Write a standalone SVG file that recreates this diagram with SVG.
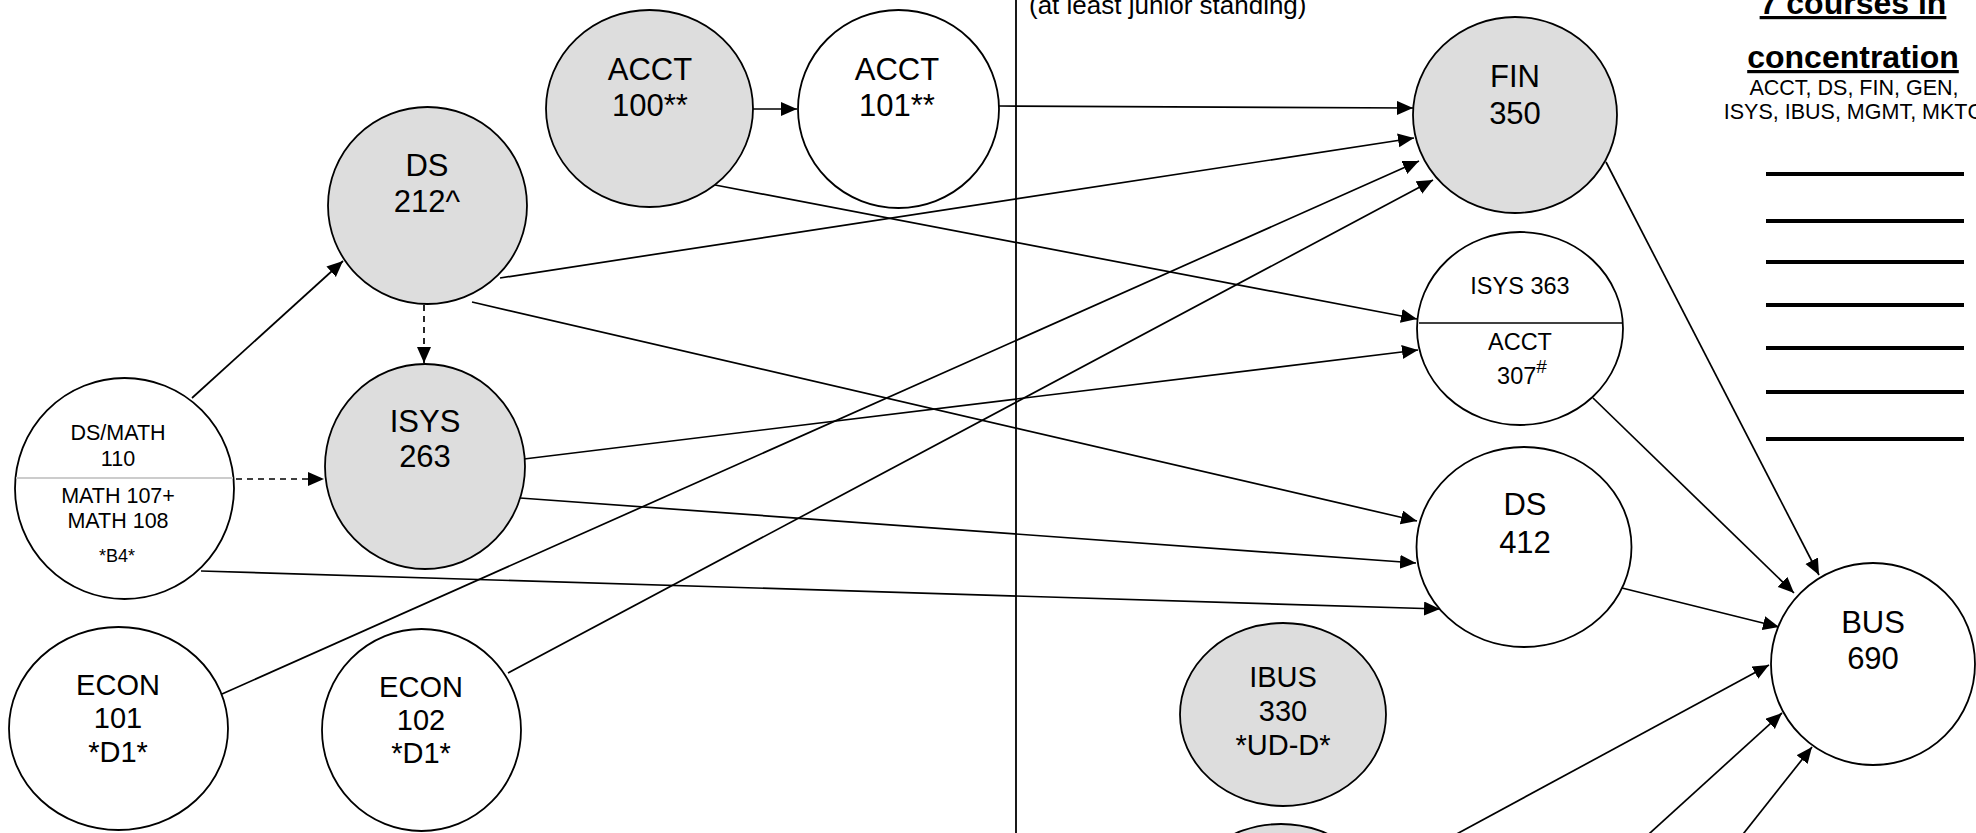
<svg xmlns="http://www.w3.org/2000/svg" width="1976" height="833" viewBox="0 0 1976 833">
<style>
text{font-family:"Liberation Sans",Arial,sans-serif;fill:#000;text-anchor:middle}
.nd{stroke:#000;stroke-width:1.8}
.g{fill:#dddddd}
.w{fill:#fff}
.t31{font-size:31px}
.t29{font-size:29px}
.t23{font-size:23.5px}
.t22{font-size:21.5px}
.t18{font-size:18px}
.c{fill:none;stroke:#000;stroke-width:1.7;marker-end:url(#ah)}
.d{stroke-dasharray:6 5}
.blank{stroke:#000;stroke-width:4}
</style>
<defs>
<marker id="ah" markerUnits="userSpaceOnUse" markerWidth="18" markerHeight="15" refX="16" refY="7" orient="auto">
<path d="M0,0 L16,7 L0,14 z" fill="#000"/>
</marker>
</defs>
<rect width="1976" height="833" fill="#fff"/>
<line x1="1016" y1="0" x2="1016" y2="833" stroke="#000" stroke-width="1.8"/>
<text x="1029" y="14" style="font-size:26px;text-anchor:start">(at least junior standing)</text>
<g id="concentration">
<text x="1853" y="14" style="font-size:32px;font-weight:bold;text-decoration:underline">7 courses in</text>
<text x="1853" y="68" style="font-size:32px;font-weight:bold;text-decoration:underline">concentration</text>
<text x="1854" y="95" style="font-size:21.5px">ACCT, DS, FIN, GEN,</text>
<text x="1854" y="119" style="font-size:21.5px">ISYS, IBUS, MGMT, MKTG</text>
<line class="blank" x1="1766" y1="174" x2="1964" y2="174"/>
<line class="blank" x1="1766" y1="221" x2="1964" y2="221"/>
<line class="blank" x1="1766" y1="262" x2="1964" y2="262"/>
<line class="blank" x1="1766" y1="305" x2="1964" y2="305"/>
<line class="blank" x1="1766" y1="348" x2="1964" y2="348"/>
<line class="blank" x1="1766" y1="392" x2="1964" y2="392"/>
<line class="blank" x1="1766" y1="439" x2="1964" y2="439"/>
</g>
<g id="connectors">
<path class="c" d="M753,109 L797,109"/>
<path class="c" d="M999,106 L1413,108"/>
<path class="c" d="M500,278 L1414,138"/>
<path class="c" d="M222,694 L1419,161"/>
<path class="c" d="M508,673 L1433,180"/>
<path class="c" d="M715,185 L1417,319"/>
<path class="c" d="M524,459 L1418,350"/>
<path class="c" d="M472,302 L1417,521"/>
<path class="c" d="M520,498 L1416,563"/>
<path class="c" d="M201,571 L1440,609"/>
<path class="c" d="M192,398 L343,261"/>
<path class="c d" d="M424,305 L424,363"/>
<path class="c d" d="M236,479 L324,479"/>
<path class="c" d="M1606,162 L1819,575"/>
<path class="c" d="M1593,398 L1794,593"/>
<path class="c" d="M1622,588 L1779,627"/>
<path class="c" d="M1440,843 L1769,665"/>
<path class="c" d="M1639,843 L1782,713"/>
<path class="c" d="M1736,843 L1812,747"/>
</g>
<g id="acct100">
<ellipse class="nd g" cx="649.5" cy="108.5" rx="103.5" ry="98.5"/>
<text class="t31" x="650" y="80">ACCT</text>
<text class="t31" x="650" y="116">100**</text>
</g>
<g id="acct101">
<ellipse class="nd w" cx="898.5" cy="109" rx="100.5" ry="99"/>
<text class="t31" x="897" y="80">ACCT</text>
<text class="t31" x="897" y="116">101**</text>
</g>
<g id="ds212">
<ellipse class="nd g" cx="427.5" cy="205.5" rx="99.5" ry="98.5"/>
<text class="t31" x="427" y="176">DS</text>
<text class="t31" x="427" y="212">212^</text>
</g>
<g id="isys263">
<ellipse class="nd g" cx="425" cy="466.5" rx="100" ry="102.5"/>
<text class="t31" x="425" y="432">ISYS</text>
<text class="t31" x="425" y="467">263</text>
</g>
<g id="dsmath110">
<ellipse class="nd w" cx="124.5" cy="488.5" rx="109.5" ry="110.5"/>
<line x1="16" y1="478" x2="233" y2="478" stroke="#cccccc" stroke-width="2"/>
<text class="t22" x="118" y="440">DS/MATH</text>
<text class="t22" x="118" y="466">110</text>
<text class="t22" x="118" y="503">MATH 107+</text>
<text class="t22" x="118" y="528">MATH 108</text>
<text class="t18" x="117" y="562">*B4*</text>
</g>
<g id="econ101">
<ellipse class="nd w" cx="118.5" cy="728.5" rx="109.5" ry="101.5"/>
<text class="t29" x="118" y="695">ECON</text>
<text class="t29" x="118" y="728">101</text>
<text class="t29" x="118" y="762">*D1*</text>
</g>
<g id="econ102">
<ellipse class="nd w" cx="421.5" cy="730" rx="99.5" ry="101"/>
<text class="t29" x="421" y="697">ECON</text>
<text class="t29" x="421" y="730">102</text>
<text class="t29" x="421" y="763">*D1*</text>
</g>
<g id="fin350">
<ellipse class="nd g" cx="1515" cy="115" rx="102" ry="98"/>
<text class="t31" x="1515" y="87">FIN</text>
<text class="t31" x="1515" y="124">350</text>
</g>
<g id="isys363-acct307">
<ellipse class="nd w" cx="1520" cy="328.5" rx="103" ry="96.5"/>
<line x1="1419" y1="323" x2="1622" y2="323" stroke="#000" stroke-width="1.6"/>
<text class="t23" x="1520" y="294">ISYS 363</text>
<text class="t23" x="1520" y="350">ACCT</text>
<text class="t23" x="1522" y="384">307<tspan dy="-11" style="font-size:19px">#</tspan></text>
</g>
<g id="ds412">
<ellipse class="nd w" cx="1524" cy="547" rx="107.5" ry="100"/>
<text class="t31" x="1525" y="515">DS</text>
<text class="t31" x="1525" y="553">412</text>
</g>
<g id="bus690">
<ellipse class="nd w" cx="1873" cy="664" rx="102" ry="101"/>
<text class="t31" x="1873" y="633">BUS</text>
<text class="t31" x="1873" y="669">690</text>
</g>
<g id="ibus330">
<ellipse class="nd g" cx="1283" cy="714.5" rx="103" ry="91.5"/>
<text class="t29" x="1283" y="687">IBUS</text>
<text class="t29" x="1283" y="721">330</text>
<text class="t29" x="1283" y="755">*UD-D*</text>
</g>
<g id="lower-node">
<ellipse class="nd g" cx="1281" cy="916" rx="103" ry="92"/>
</g>
</svg>
